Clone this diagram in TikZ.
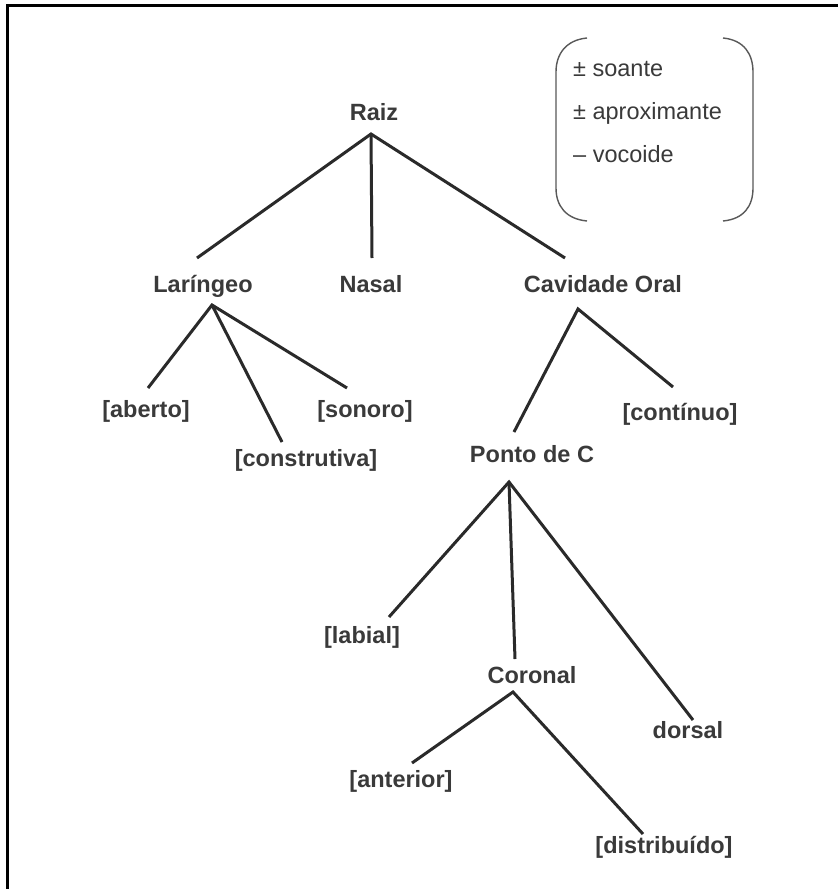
\documentclass[tikz,border=0pt]{standalone}
\usepackage{fontspec}
\setmainfont{Liberation Sans}
\begin{document}
\begin{tikzpicture}[x=1pt,y=-1pt,
  lbl/.style={anchor=base,inner sep=0pt,text=txtc,font=\fontsize{23.5pt}{28pt}\selectfont\bfseries},
  feat/.style={anchor=base west,inner sep=0pt,text=txtc,font=\fontsize{23.5pt}{28pt}\selectfont},
  link/.style={draw=linec,line width=3pt},
  brk/.style={draw=gray!70!black,line width=1.4pt}]
\definecolor{txtc}{HTML}{3A3A3A}
\definecolor{linec}{HTML}{2A2A2A}
\useasboundingbox (0,0) rectangle (838,889);
\fill[white] (0,0) rectangle (838,889);
% frame (top and left only)
\draw[line width=3pt,black] (7,889) -- (7,5.5) -- (838,5.5);
% nodes
\node[lbl] (raiz) at (374,120) {Raiz};
\node[lbl] (lar) at (203,292) {Laríngeo};
\node[lbl] (nasal) at (371,292) {Nasal};
\node[lbl] (cav) at (603,292) {Cavidade Oral};
\node[lbl] (aberto) at (146,417) {[aberto]};
\node[lbl] (constr) at (306,466) {[construtiva]};
\node[lbl] (sonoro) at (365,417) {[sonoro]};
\node[lbl] (cont) at (680,420) {[contínuo]};
\node[lbl] (ponto) at (532,462) {Ponto de C};
\node[lbl] (labial) at (362,643) {[labial]};
\node[lbl] (coronal) at (532,683) {Coronal};
\node[lbl] (dorsal) at (688,738) {dorsal};
\node[lbl] (anterior) at (401,787) {[anterior]};
\node[lbl] (distr) at (664,853) {[distribuído]};
% connectors
\draw[link] ([shift={(-6,-34)}]lar.base) -- ([shift={(-3,14)}]raiz.base) -- ([shift={(-38,-34)}]cav.base);
\draw[link] ([shift={(-3,14)}]raiz.base) -- ([shift={(1,-34)}]nasal.base);
\draw[link] ([shift={(2,-29)}]aberto.base) -- ([shift={(9,13)}]lar.base) -- ([shift={(-18,-29)}]sonoro.base);
\draw[link] ([shift={(9,13)}]lar.base) -- ([shift={(-24,-24)}]constr.base);
\draw[link] ([shift={(-18,-30)}]ponto.base) -- ([shift={(-25,17)}]cav.base) -- ([shift={(-7,-33)}]cont.base);
\draw[link] ([shift={(27,-26)}]labial.base) -- ([shift={(-23,20)}]ponto.base) -- ([shift={(5,-18)}]dorsal.base);
\draw[link] ([shift={(-23,20)}]ponto.base) -- ([shift={(-17,-24)}]coronal.base);
\draw[link] ([shift={(11,-24)}]anterior.base) -- ([shift={(-19,9)}]coronal.base) -- ([shift={(-21,-19)}]distr.base);
% feature box
\node[feat] (f1) at (573,76) {± soante};
\node[feat] (f2) at (573,119) {± aproximante};
\node[feat] (f3) at (573,162) {– vocoide};
\draw[brk] (587,38) .. controls (566,40) and (556,54) .. (556,72) -- (556,188) .. controls (556,206) and (566,219) .. (587,221);
\draw[brk] (723,38) .. controls (744,40) and (753,54) .. (753,72) -- (753,188) .. controls (753,206) and (744,219) .. (723,221);
\end{tikzpicture}
\end{document}
